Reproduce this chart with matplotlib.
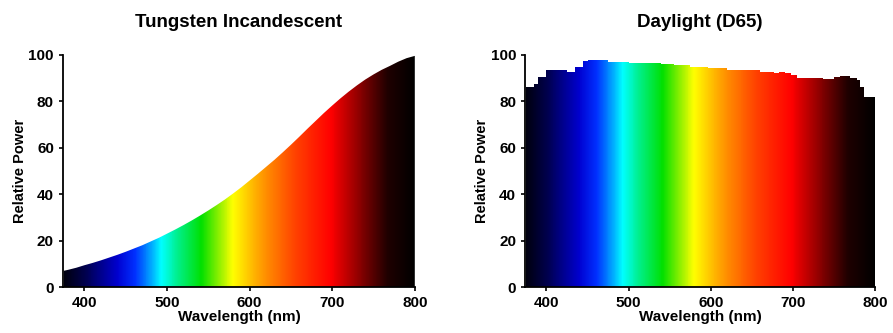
import matplotlib
import numpy as np
from matplotlib import pyplot as plt
from matplotlib.colors import LinearSegmentedColormap

matplotlib.use('Agg')

plt.rcParams['font.family'] = ['Liberation Sans', 'DejaVu Sans']
plt.rcParams['font.weight'] = 'bold'

# 钨丝灯光谱（相对功率）
tungsten_nm = [375, 380, 390, 400, 410, 420, 430, 440, 450, 460, 470, 480, 490,
               500, 510, 520, 530, 540, 550, 560, 570, 580, 590, 600, 610, 620,
               630, 640, 650, 660, 670, 680, 690, 700, 710, 720, 730, 740, 750,
               760, 770, 780, 790, 800]
tungsten_power = [7, 7.4, 8.3, 9.4, 10.4, 11.5, 12.7, 13.9, 15.2, 16.6, 18,
                  19.6, 21.2, 23, 24.8, 26.7, 28.7, 30.8, 33, 35.3, 37.7, 40.3,
                  43, 45.9, 48.8, 51.8, 54.8, 58, 61.3, 64.7, 68.2, 71.6, 75,
                  78.2, 81.3, 84.2, 86.9, 89.4, 91.6, 93.6, 95.3, 97.1, 98.6,
                  99.6]

# 日光 D65 光谱
d65_nm = [375, 385, 390, 395, 400, 410, 420, 425, 430, 435, 440, 445, 450, 460,
          475, 500, 515, 540, 555, 575, 596, 620, 636, 660, 677, 683, 690, 697,
          705, 720, 737, 750, 757, 770, 778, 782, 786, 800]
d65_power = [86.4, 87.5, 90.7, 90.7, 93.3, 93.3, 93.3, 92.6, 92.6, 95, 95, 97.5,
             97.8, 97.8, 97.1, 96.6, 96.4, 96.0, 95.7, 95.0, 94.3, 93.6, 93.3,
             92.6, 92.1, 92.6, 92.4, 91.2, 90.0, 90.0, 89.8, 90.6, 91.0, 90.2,
             89.3, 86, 82, 82]

titles = ['Tungsten Incandescent', 'Daylight (D65)']

# 光谱颜色
spectrum = LinearSegmentedColormap.from_list('spectrum', [
    (0.00, '#000010'), (0.06, '#000050'), (0.15, '#0000d0'), (0.20, '#0030ff'),
    (0.25, '#00b0ff'), (0.275, '#00ffff'), (0.32, '#00f090'), (0.39, '#00e000'),
    (0.44, '#90f000'), (0.48, '#ffff00'), (0.53, '#ffc000'), (0.58, '#ff8800'),
    (0.66, '#ff4000'), (0.76, '#ff0000'), (0.85, '#800000'), (0.92, '#200000'),
    (1.00, '#000000')])


# 用光谱渐变填充曲线下方区域
def spectrum_area(ax, nm, power, step=False):
    if step:
        poly = ax.fill_between(nm, power, 0, step='post', color='none')
    else:
        poly = ax.fill_between(nm, power, 0, color='none')
    grad = np.linspace(375, 800, 500).reshape(1, -1)
    im = ax.imshow(grad, cmap=spectrum, extent=[375, 800, 0, 100],
                   aspect='auto', origin='lower', vmin=375, vmax=800)
    im.set_clip_path(poly.get_paths()[0], transform=ax.transData)


fig = plt.figure(figsize=(8.93, 3.33), dpi=100)
ax1 = fig.add_axes([0.0705, 0.138, 0.394, 0.697])
ax2 = fig.add_axes([0.588, 0.138, 0.392, 0.697])

spectrum_area(ax1, tungsten_nm, tungsten_power)
spectrum_area(ax2, d65_nm, d65_power, step=True)

for ax, title in zip([ax1, ax2], titles):
    ax.set_xlim(374, 800)
    ax.set_ylim(0, 100)
    ax.set_xticks([400, 500, 600, 700, 800])
    ax.set_yticks([0, 20, 40, 60, 80, 100])
    ax.spines['top'].set_visible(False)
    ax.spines['right'].set_visible(False)
    ax.spines['left'].set_linewidth(1.3)
    ax.spines['bottom'].set_linewidth(1.3)
    ax.tick_params(labelsize=11, length=3, width=1.2)
    for lab in ax.get_xticklabels() + ax.get_yticklabels():
        lab.set_fontweight('bold')
    ax.set_xlabel('Wavelength (nm)', fontsize=11, fontweight='bold', labelpad=0)
    ax.set_ylabel('Relative Power', fontsize=10.5, fontweight='bold', labelpad=1)
    ax.set_title(title, fontsize=13.5, fontweight='bold', pad=20)

plt.savefig('out.png', format='png')
plt.close()
